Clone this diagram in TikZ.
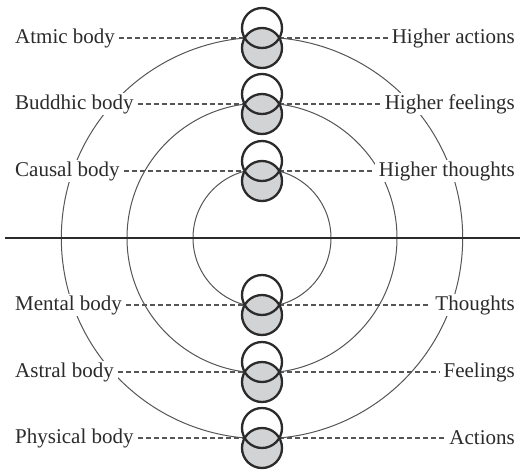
\documentclass[tikz,border=0pt]{standalone}
\usepackage{fontspec}
\setmainfont{Liberation Serif}
\usepackage{xcolor}
\usepackage{tikz}
\definecolor{AuraInk}{HTML}{2B2B2B}
\definecolor{AuraRing}{HTML}{555555}
\definecolor{AuraFill}{HTML}{D2D3D5}
\tikzset{
  aura label/.style={
    fill=white,
    inner xsep=4pt,
    inner ysep=1pt,
    text=AuraInk,
    font=\fontsize{21}{24}\selectfont
  },
  aura left/.style={aura label, anchor=west},
  aura right/.style={aura label, anchor=east},
  aura link/.style={dash pattern=on 5pt off 3pt, line width=1.2pt, draw=AuraRing},
  aura ring/.style={line width=1pt, draw=AuraRing},
  aura glyph/.style={line width=2.3pt, draw=AuraInk}
}

\begin{document}
\begin{tikzpicture}[x=1pt, y=-1pt]
  \useasboundingbox (0,0) rectangle (523,472);

  % rings round the core
  \coordinate (core) at (262,238);
  \draw[aura ring] (core) circle (200.7pt);
  \draw[aura ring] (core) circle (135pt);
  \draw[aura ring] (core) circle (69pt);
  \draw[AuraInk, line width=1.7pt] (5,238) -- (520,238);

  % labels
  \node[aura left] (atmic) at (11,38) {Atmic body};
  \node[aura left] (buddhic) at (11,104) {Buddhic body};
  \node[aura left] (causal) at (11,171) {Causal body};
  \node[aura left] (mental) at (11,305) {Mental body};
  \node[aura left] (astral) at (11,372) {Astral body};
  \node[aura left] (physical) at (11,438) {Physical body};
  \node[aura right] (hactions) at (519,38) {Higher actions};
  \node[aura right] (hfeelings) at (519,104) {Higher feelings};
  \node[aura right] (hthoughts) at (519,171) {Higher thoughts};
  \node[aura right] (thoughts) at (519,305) {Thoughts};
  \node[aura right] (feelings) at (519,372) {Feelings};
  \node[aura right] (actions) at (519,438) {Actions};

  \coordinate (atmicL) at (244.7,38);   \coordinate (atmicR) at (279.3,38);
  \coordinate (buddhicL) at (244.7,104); \coordinate (buddhicR) at (279.3,104);
  \coordinate (causalL) at (244.7,171);  \coordinate (causalR) at (279.3,171);
  \coordinate (mentalL) at (244.7,305);  \coordinate (mentalR) at (279.3,305);
  \coordinate (astralL) at (244.7,372);  \coordinate (astralR) at (279.3,372);
  \coordinate (physicalL) at (244.7,438); \coordinate (physicalR) at (279.3,438);

  \draw[aura link] (atmic) -- (atmicL);  \draw[aura link] (atmicR) -- (hactions);
  \draw[aura link] (buddhic) -- (buddhicL); \draw[aura link] (buddhicR) -- (hfeelings);
  \draw[aura link] (causal) -- (causalL); \draw[aura link] (causalR) -- (hthoughts);
  \draw[aura link] (mental) -- (mentalL); \draw[aura link] (mentalR) -- (thoughts);
  \draw[aura link] (astral) -- (astralL); \draw[aura link] (astralR) -- (feelings);
  \draw[aura link] (physical) -- (physicalL); \draw[aura link] (physicalR) -- (actions);

  % glyphs
  \fill[white] (262,28) circle (20pt);  \fill[AuraFill] (262,48) circle (20pt);
  \draw[aura glyph] (262,28) circle (20pt) (262,48) circle (20pt);
  \fill[white] (262,94) circle (20pt);  \fill[AuraFill] (262,114) circle (20pt);
  \draw[aura glyph] (262,94) circle (20pt) (262,114) circle (20pt);
  \fill[white] (262,161) circle (20pt); \fill[AuraFill] (262,181) circle (20pt);
  \draw[aura glyph] (262,161) circle (20pt) (262,181) circle (20pt);
  \fill[white] (262,295) circle (20pt); \fill[AuraFill] (262,315) circle (20pt);
  \draw[aura glyph] (262,295) circle (20pt) (262,315) circle (20pt);
  \fill[white] (262,362) circle (20pt); \fill[AuraFill] (262,382) circle (20pt);
  \draw[aura glyph] (262,362) circle (20pt) (262,382) circle (20pt);
  \fill[white] (262,428) circle (20pt); \fill[AuraFill] (262,448) circle (20pt);
  \draw[aura glyph] (262,428) circle (20pt) (262,448) circle (20pt);
\end{tikzpicture}
\end{document}
